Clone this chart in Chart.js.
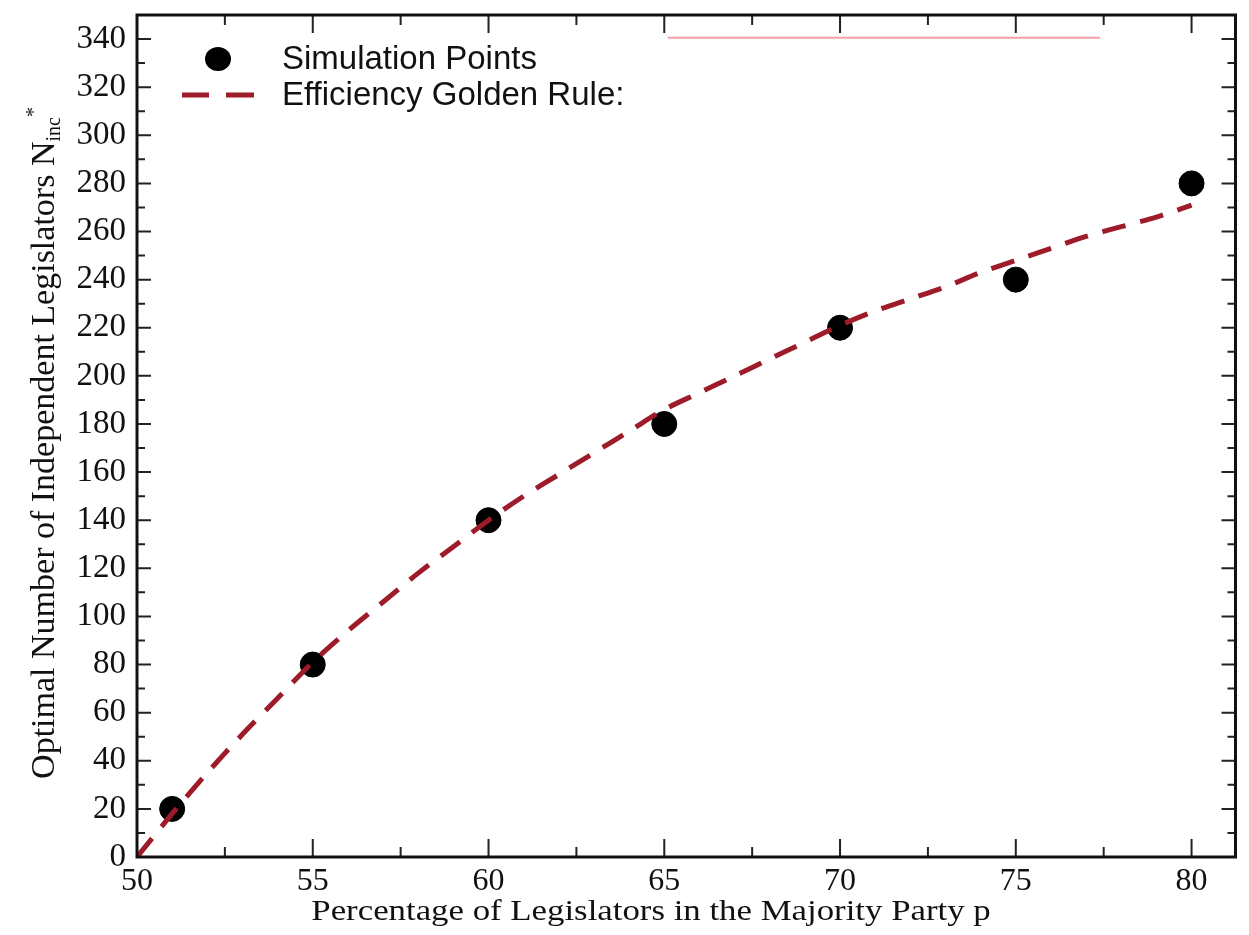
<!DOCTYPE html>
<html>
<head>
<meta charset="utf-8">
<script src="https://cdn.jsdelivr.net/npm/chart.js@4.4.0/dist/chart.umd.min.js"></script>
<style>
  body { margin: 0; background: #fff; }
  #wrap { width: 1249px; height: 935px; position: relative; }
</style>
</head>
<body>
<div id="wrap"><canvas id="chart"></canvas></div>
<script>
// Simulation points
const simX = [51, 55, 60, 65, 70, 75, 80];
const simY = [20, 80, 140, 180, 220, 240, 280];

// Efficiency golden rule curve
const ruleX = [50, 51, 52, 53, 54, 55, 56, 57, 58, 59, 60, 61, 62, 63, 64, 65,
               66, 67, 68, 69, 70, 71, 72, 73, 74, 75, 76, 77, 78, 79, 80];
const ruleY = [0, 18, 35, 51, 66, 81, 94, 106, 118, 129, 140, 150, 159, 168, 177, 186,
               193, 200, 207, 214, 221, 227, 232, 237, 243, 248, 253, 258, 262, 266, 271];

// Tick labels
const xTicks = [50, 55, 60, 65, 70, 75, 80];
const yTicks = [0, 20, 40, 60, 80, 100, 120, 140, 160, 180, 200, 220, 240, 260, 280, 300, 320, 340];

const seriesNames = ['Simulation Points', 'Efficiency Golden Rule:'];
const xTitle = 'Percentage of Legislators in the Majority Party p';
const yTitle = 'Optimal Number of Independent Legislators N';
const lineColor = '#9e1b29';

const serif = '"Liberation Serif", "Times New Roman", serif';
const sans = '"Liberation Sans", Arial, sans-serif';

// Inward ticks on all four sides + frame + legend + axis titles
const decorPlugin = {
    id: 'decor',
    afterDraw(chart) {
        const ctx = chart.ctx;
        const a = chart.chartArea;
        const xs = chart.scales.x;
        const ys = chart.scales.y;
        ctx.save();
        ctx.strokeStyle = '#222';
        ctx.lineWidth = 2;

        // x ticks (major every 5, minor every 2.5)
        for (let v = 50; v <= 80.01; v += 2.5) {
            const px = xs.getPixelForValue(v);
            const len = (v % 5 === 0) ? 18 : 10;
            ctx.beginPath();
            ctx.moveTo(px, a.bottom); ctx.lineTo(px, a.bottom - len);
            ctx.moveTo(px, a.top); ctx.lineTo(px, a.top + len);
            ctx.stroke();
        }
        // y ticks (major every 20, minor every 10)
        for (let v = 10; v <= 340; v += 10) {
            const py = ys.getPixelForValue(v);
            const len = (v % 20 === 0) ? 14 : 8;
            ctx.beginPath();
            ctx.moveTo(a.left, py); ctx.lineTo(a.left + len, py);
            ctx.moveTo(a.right, py); ctx.lineTo(a.right - len, py);
            ctx.stroke();
        }

        // frame
        ctx.lineWidth = 3;
        ctx.strokeStyle = '#111';
        ctx.strokeRect(a.left, a.top, a.right - a.left, a.bottom - a.top);

        // faint red scan line near the top
        ctx.strokeStyle = '#f4a0a4';
        ctx.lineWidth = 2;
        ctx.beginPath();
        ctx.moveTo(xs.getPixelForValue(65.1), ys.getPixelForValue(340.5));
        ctx.lineTo(xs.getPixelForValue(77.4), ys.getPixelForValue(340.5));
        ctx.stroke();

        // legend
        ctx.fillStyle = '#000';
        ctx.beginPath();
        ctx.ellipse(a.left + 81, a.top + 44, 13, 12, 0, 0, Math.PI * 2);
        ctx.fill();
        ctx.strokeStyle = lineColor;
        ctx.lineWidth = 5;
        ctx.beginPath();
        ctx.moveTo(a.left + 45, a.top + 80); ctx.lineTo(a.left + 72, a.top + 80);
        ctx.moveTo(a.left + 89, a.top + 80); ctx.lineTo(a.left + 117, a.top + 80);
        ctx.stroke();
        ctx.fillStyle = '#111';
        ctx.font = '33px ' + sans;
        ctx.textBaseline = 'middle';
        ctx.textAlign = 'left';
        ctx.fillText(seriesNames[0], a.left + 145, a.top + 45);
        ctx.fillText(seriesNames[1], a.left + 145, a.top + 81);

        // x axis title (the scan is stretched a little horizontally)
        ctx.save();
        ctx.translate(651, 912);
        ctx.scale(1.16, 1);
        ctx.font = '30px ' + serif;
        ctx.textAlign = 'center';
        ctx.fillText(xTitle, 0, 0);
        ctx.restore();

        // y axis title with subscript / superscript
        ctx.translate(42, (a.top + a.bottom) / 2 + 7);
        ctx.rotate(-Math.PI / 2);
        ctx.font = '34px ' + serif;
        const w1 = ctx.measureText(yTitle).width;
        ctx.font = '20px ' + serif;
        const w2 = ctx.measureText('inc').width;
        const w3 = ctx.measureText('*').width;
        const x0 = -(w1 + w2 + w3) / 2;
        ctx.textAlign = 'left';
        ctx.textBaseline = 'alphabetic';
        ctx.font = '34px ' + serif;
        ctx.fillText(yTitle, x0, 12);
        ctx.font = '20px ' + serif;
        ctx.fillText('inc', x0 + w1, 18);
        ctx.fillText('*', x0 + w1 + w2, -2);
        ctx.restore();
    }
};

new Chart(document.getElementById('chart'), {
    type: 'scatter',
    data: {
        datasets: [
            {
                label: seriesNames[1],
                data: ruleX.map((x, i) => ({ x: x, y: ruleY[i] })),
                showLine: true,
                borderColor: lineColor,
                borderWidth: 5,
                borderDash: [24, 15],
                pointRadius: 0,
                tension: 0.3,
                fill: false
            },
            {
                label: seriesNames[0],
                data: simX.map((x, i) => ({ x: x, y: simY[i] })),
                backgroundColor: '#000',
                borderColor: '#000',
                pointRadius: 12.5,
                pointHoverRadius: 12.5
            }
        ]
    },
    options: {
        responsive: true,
        maintainAspectRatio: false,
        animation: false,
        events: [],
        layout: { padding: { top: 15, right: 12, left: 0, bottom: 0 } },
        plugins: {
            legend: { display: false },
            tooltip: { enabled: false }
        },
        scales: {
            x: {
                type: 'linear',
                min: 50,
                max: 81.25,
                afterBuildTicks: s => { s.ticks = xTicks.map(v => ({ value: v })); },
                afterFit: s => { s.height = 78; s.paddingLeft = 0; s.paddingRight = 0; },
                grid: { display: false },
                border: { display: false },
                ticks: {
                    color: '#111',
                    font: { family: serif, size: 32 },
                    padding: -3,
                    maxRotation: 0
                }
            },
            y: {
                type: 'linear',
                min: 0,
                max: 350,
                afterBuildTicks: s => { s.ticks = yTicks.map(v => ({ value: v })); },
                afterFit: s => { s.width = 137; s.paddingTop = 0; s.paddingBottom = 0; },
                grid: { display: false },
                border: { display: false },
                ticks: {
                    color: '#111',
                    font: { family: serif, size: 33 },
                    padding: 3
                }
            }
        }
    },
    plugins: [decorPlugin]
});
</script>
</body>
</html>
